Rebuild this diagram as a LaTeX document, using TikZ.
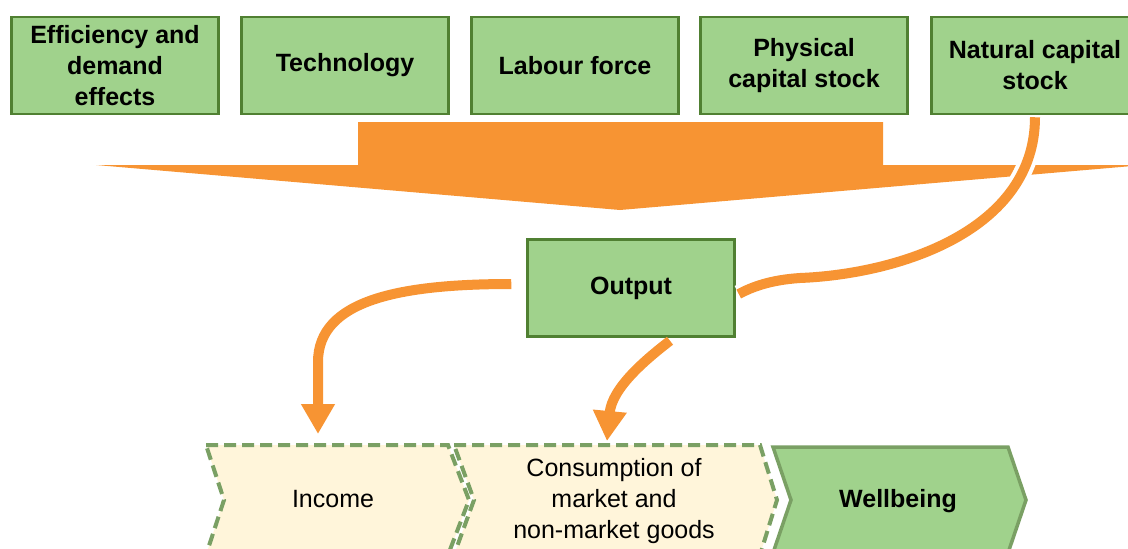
\documentclass[tikz,border=0pt]{standalone}
\usepackage{fontspec}
\setmainfont{Liberation Sans}
\usepackage{xcolor}
\usetikzlibrary{shapes,arrows,positioning,calc,arrows.meta}

\definecolor{boxgreen}{RGB}{160,210,140}
\definecolor{darkgreen}{RGB}{80,128,50}
\definecolor{dashgreen}{RGB}{122,160,100}
\definecolor{cream}{RGB}{255,245,218}
\definecolor{flow}{RGB}{247,148,51}

\begin{document}
\begin{tikzpicture}[x=1pt, y=-1pt,
    factor/.style={draw=darkgreen, fill=boxgreen, line width=2.5pt, minimum width=207pt, minimum height=97pt,
        inner sep=0pt, align=center, font=\bfseries\fontsize{25}{31}\selectfont},
    chev/.style={draw=dashgreen, fill=cream, line width=4pt, dash pattern=on 12pt off 6pt},
    chevsolid/.style={draw=dashgreen, fill=boxgreen, line width=3.5pt},
    outtext/.style={align=center, inner sep=0pt, font=\fontsize{25}{31}\selectfont},
    flowline/.style={draw=flow, line width=10pt},
    halo/.style={preaction={draw=white, line width=18pt}},
    flowtip/.style={-{Triangle[length=30pt,width=32pt]}}]
    \useasboundingbox (0,0) rectangle (1128,549);
    \clip (0,0) rectangle (1128,549);

    % Drivers of output
    \foreach \x/\name/\txt in {115/effic/{Efficiency and\\demand\\effects}, 345/tech/Technology, 575/labour/Labour force,
        804/physcap/{Physical\\capital stock}, 1035/natcap/{Natural capital\\stock}}
        \node[factor] (\name) at (\x,65.5) {\txt};

    % Combined flow
    \fill[flow] (358,122) -- (883,122) -- (883,165) -- (1144,165) -- (620,210) -- (96,165) -- (358,165) -- cycle;

    % Output
    \node[factor] (output) at (631,288) {Output};

    % Outcomes
    \draw[chev] (206,445) -- (448,445) -- (469,500) -- (448,555) -- (206,555) -- (224,500) -- cycle;
    \draw[chev] (454,445) -- (760,445) -- (777,500) -- (760,555) -- (454,555) -- (474,500) -- cycle;
    \draw[chevsolid] (773,447) -- (1008,447) -- (1026,500) -- (1008,553) -- (773,553) -- (791,500) -- cycle;
    \node[outtext] (income) at (333,499) {Income};
    \node[outtext] (consum) at (614,501) {Consumption of\\market and\\non-market goods};
    \node[outtext, font=\bfseries\fontsize{25}{31}\selectfont] (wellb) at (898,501) {Wellbeing};
    \coordinate (income in) at (318,434);
    \coordinate (consum in) at (607,441);

    % Natural capital into output
    \draw[flowline, halo] ($(natcap.south)+(0,2)$) .. controls (1035,230) and (900,274) .. (800,278)
        .. controls (770,280) and (752,287) .. ($(output.east)+(3,6)$);

    % Output into income and consumption
    \draw[flowline, flowtip] ($(output.west)+(-15,-4)$) .. controls (400,284) and (318,300) .. (318,362) -- (income in);
    \draw[flowline, flowtip] ($(output.south)+(39,3)$) .. controls (645,360) and (612,388) .. (consum in);
\end{tikzpicture}
\end{document}
